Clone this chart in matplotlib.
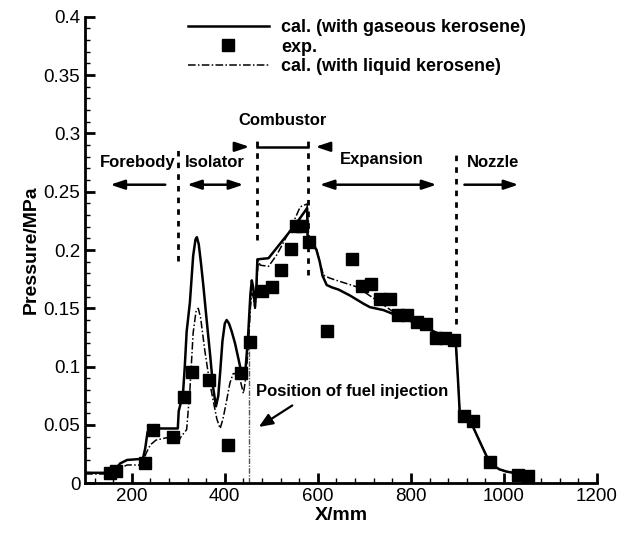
import matplotlib
matplotlib.use('Agg')
from matplotlib import pyplot as plt
import matplotlib.ticker as mticker

plt.rcParams['font.family'] = ['Liberation Sans', 'DejaVu Sans']

# experimental pressure (x in mm, p in MPa)
exp_x = [153, 166, 228, 245, 289, 312, 330, 367, 406, 435, 454, 481, 501, 520, 542,
         553, 566, 582, 620, 674, 694, 714, 734, 754, 773, 792, 812, 832, 854, 873,
         893, 913, 933, 971, 1031, 1052]
exp_p = [0.0086, 0.0108, 0.0171, 0.0457, 0.0394, 0.0742, 0.0957, 0.0885, 0.0328, 0.0948,
         0.121, 0.165, 0.168, 0.183, 0.201, 0.221, 0.221, 0.2066, 0.131, 0.192,
         0.169, 0.171, 0.158, 0.158, 0.144, 0.144, 0.1386, 0.1366, 0.125, 0.125,
         0.1228, 0.058, 0.0537, 0.0185, 0.0071, 0.0063]

# calculation with gaseous kerosene
gas_x = [100, 150, 158, 165, 175, 190, 224, 229, 234, 245, 290, 299, 301, 310, 314,
         318, 325, 332, 337, 340, 344, 349, 354, 361, 368, 375, 381, 386, 390, 395,
         400, 404, 409, 415, 422, 433, 440, 445, 450, 455, 458, 461, 465, 468, 470,
         494, 526, 554, 577, 578, 590, 597, 604, 610, 619, 630, 645, 669, 698, 712,
         741, 769, 800, 850, 891, 897, 901, 905, 927, 950, 970, 990, 1006, 1049]
gas_p = [0.009, 0.009, 0.011, 0.012, 0.017, 0.02, 0.021, 0.03, 0.044, 0.047, 0.047,
         0.047, 0.062, 0.076, 0.1, 0.13, 0.155, 0.195, 0.209, 0.211, 0.205, 0.188,
         0.169, 0.14, 0.112, 0.082, 0.066, 0.075, 0.095, 0.122, 0.137, 0.14, 0.137,
         0.13, 0.12, 0.1, 0.093, 0.1, 0.126, 0.162, 0.174, 0.168, 0.151, 0.17, 0.192,
         0.193, 0.209, 0.223, 0.236, 0.211, 0.205, 0.2, 0.19, 0.178, 0.17, 0.168, 0.166,
         0.161, 0.154, 0.151, 0.1485, 0.144, 0.139, 0.13, 0.123, 0.117, 0.09, 0.06, 0.054,
         0.034, 0.017, 0.012, 0.01, 0.007]

# calculation with liquid kerosene
liq_x = [100, 150, 158, 165, 175, 190, 224, 230, 240, 252, 274, 295, 302, 306, 318,
         325, 332, 338, 343, 348, 357, 366, 375, 383, 390, 396, 404, 411, 418, 425,
         433, 440, 445, 450, 455, 458, 461, 465, 468, 472, 476, 494, 512, 540, 562,
         577, 578, 590, 597, 604, 612, 625, 640, 683, 726, 762, 800, 850, 891, 897,
         901, 905, 927, 950, 970, 990, 1006, 1049]
liq_p = [0.008, 0.008, 0.009, 0.01, 0.013, 0.0157, 0.0157, 0.025, 0.033, 0.037, 0.039,
         0.039, 0.037, 0.04, 0.046, 0.08, 0.129, 0.147, 0.15, 0.142, 0.114, 0.09, 0.071,
         0.055, 0.047, 0.055, 0.071, 0.086, 0.094, 0.094, 0.0886, 0.077, 0.09, 0.114,
         0.15, 0.163, 0.16, 0.15, 0.165, 0.191, 0.187, 0.186, 0.196, 0.217, 0.237,
         0.2395, 0.211, 0.205, 0.201, 0.19, 0.1785, 0.176, 0.174, 0.1685, 0.157, 0.147,
         0.14, 0.13, 0.123, 0.117, 0.09, 0.06, 0.054, 0.034, 0.017, 0.012, 0.01, 0.007]

# section boundaries: x, y bottom, y top
bound_x = [300, 469, 578, 897]
bound_lo = [0.191, 0.2085, 0.179, 0.137]
bound_hi = [0.2885, 0.297, 0.297, 0.283]

section_names = ['Forebody', 'Isolator', 'Combustor', 'Expansion', 'Nozzle']
section_text_x = [212, 379, 525, 737, 976]
section_text_y = [0.2685, 0.2685, 0.305, 0.271, 0.269]

injection_x = 453

fig = plt.figure(figsize=(6.33, 5.4), dpi=100)
ax = fig.add_axes([0.1346, 0.105, 0.8086, 0.864])

ax.plot(gas_x, gas_p, color='black', lw=1.8, label='cal. (with gaseous kerosene)')
ax.plot(exp_x, exp_p, 's', color='black', ms=8, label='exp.')
ax.plot(liq_x, liq_p, color='black', lw=1.1, linestyle=(0, (5, 1.5, 1, 1.5)),
        label='cal. (with liquid kerosene)')

# fuel injection position
ax.plot([injection_x, injection_x], [0, 0.117], color='#555555', lw=1,
        linestyle=(0, (4, 1, 1, 1)))

for bx, lo, hi in zip(bound_x, bound_lo, bound_hi):
    ax.plot([bx, bx], [lo, hi], color='black', lw=2, linestyle=(0, (2, 2.2)))

for name, tx, ty in zip(section_names, section_text_x, section_text_y):
    ax.text(tx, ty, name, ha='center', va='bottom', fontsize=12, fontweight='bold')

arrow = dict(arrowstyle='-|>,head_length=0.6,head_width=0.2', color='black', lw=1.8,
             mutation_scale=14)
darrow = dict(arrowstyle='<|-|>,head_length=0.6,head_width=0.2', color='black', lw=1.8,
              mutation_scale=14)
ya = 0.256
ax.annotate('', xy=(148, ya), xytext=(278, ya), arrowprops=arrow)
ax.annotate('', xy=(313, ya), xytext=(446, ya), arrowprops=darrow)
ax.annotate('', xy=(598, ya), xytext=(861, ya), arrowprops=darrow)
ax.annotate('', xy=(1037, ya), xytext=(909, ya), arrowprops=arrow)
yc = 0.2885
ax.annotate('', xy=(459, yc), xytext=(421, yc), arrowprops=arrow)
ax.annotate('', xy=(589, yc), xytext=(633, yc), arrowprops=arrow)
ax.plot([469, 578], [yc, yc], color='black', lw=1.8)

ax.text(467, 0.0785, 'Position of fuel injection', ha='left', va='center',
        fontsize=12, fontweight='bold')
ax.annotate('', xy=(468, 0.047), xytext=(550, 0.068),
            arrowprops=dict(arrowstyle='-|>,head_length=0.6,head_width=0.25',
                            color='black', lw=1.6, mutation_scale=14))

ax.set_xlim(100, 1200)
ax.set_ylim(0, 0.4)
ax.xaxis.set_major_locator(mticker.FixedLocator([200, 400, 600, 800, 1000, 1200]))
ax.xaxis.set_minor_locator(mticker.MultipleLocator(40))
ax.yaxis.set_major_locator(mticker.MultipleLocator(0.05))
ax.yaxis.set_minor_locator(mticker.MultipleLocator(0.01))
ax.yaxis.set_major_formatter(mticker.FormatStrFormatter('%g'))
ax.tick_params(which='major', direction='in', length=7, width=2, labelsize=13.5)
ax.tick_params(which='minor', direction='in', length=3.5, width=1)
for side in ['top', 'right']:
    ax.spines[side].set_visible(False)
for side in ['left', 'bottom']:
    ax.spines[side].set_linewidth(2)

ax.set_xlabel('X/mm', fontsize=14, fontweight='bold', labelpad=1)
ax.set_ylabel('Pressure/MPa', fontsize=14, fontweight='bold', labelpad=3)

ax.legend(loc='upper left', bbox_to_anchor=(0.2, 0.995), frameon=False,
          prop={'size': 13, 'weight': 'bold'}, handlelength=4.5, handletextpad=0.7,
          labelspacing=0.15, borderpad=0, borderaxespad=0, numpoints=1)

fig.savefig('out.png', dpi=100)
